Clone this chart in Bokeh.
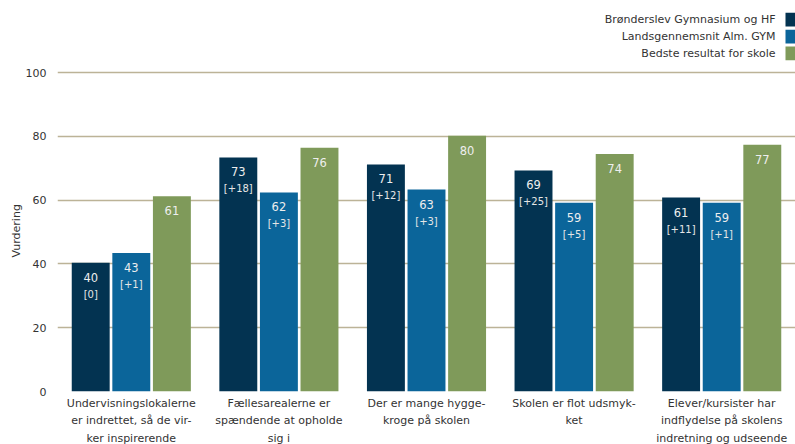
from bokeh.plotting import figure
from bokeh.models import ColumnDataSource, FactorRange, FixedTicker, Label, BoxAnnotation, Title
from bokeh.transform import dodge
from bokeh.embed import file_html
from bokeh.resources import INLINE
from bokeh.core.properties import value

categories = [
    "Undervisningslokalerne\ner indrettet, så de vir-\nker inspirerende",
    "Fællesarealerne er\nspændende at opholde\nsig i",
    "Der er mange hygge-\nkroge på skolen",
    "Skolen er flot udsmyk-\nket",
    "Elever/kursister har\nindflydelse på skolens\nindretning og udseende",
]
school = [40.4, 73.4, 71.2, 69.3, 60.8]
national = [43.4, 62.4, 63.3, 59.2, 59.2]
best = [61.2, 76.4, 80.2, 74.5, 77.4]
school_diff = ["[0]", "[+18]", "[+12]", "[+25]", "[+11]"]
national_diff = ["[+1]", "[+3]", "[+3]", "[+5]", "[+1]"]
series_names = ["Brønderslev Gymnasium og HF", "Landsgennemsnit Alm. GYM", "Bedste resultat for skole"]
y_ticks = [0, 20, 40, 60, 80, 100]

DARK = "#033351"
BLUE = "#0b659a"
GREEN = "#7f9a5a"
GRID = "#bcb397"
TXT = "#333333"
FONT = "DejaVu Sans"

src = ColumnDataSource(dict(
    cat=categories, school=school, national=national, best=best,
    school_lbl=[f"{v:.0f}" for v in school],
    national_lbl=[f"{v:.0f}" for v in national],
    best_lbl=[f"{v:.0f}" for v in best],
    school_diff=school_diff, national_diff=national_diff,
))

p = figure(x_range=FactorRange(factors=categories, range_padding=0), y_range=(0, 122.6),
           frame_width=738, frame_height=391,
           min_border_left=57, min_border_right=0, min_border_top=0, min_border_bottom=53,
           output_backend="svg", toolbar_location=None)
p.outline_line_color = None
p.background_fill_color = "white"
p.xgrid.grid_line_color = None
p.ygrid.grid_line_color = GRID
p.ygrid.grid_line_width = 1.5

p.yaxis.ticker = FixedTicker(ticks=y_ticks)
p.yaxis.axis_line_color = None
p.yaxis.major_tick_line_color = None
p.yaxis.minor_tick_line_color = None
p.yaxis.major_label_standoff = 5
p.yaxis.major_label_text_font = FONT
p.yaxis.major_label_text_font_size = "11px"
p.yaxis.major_label_text_color = TXT

p.xaxis.axis_line_color = None
p.xaxis.major_tick_line_color = None
p.xaxis.major_label_standoff = -1
p.xaxis.major_label_text_font = FONT
p.xaxis.major_label_text_font_size = "11px"
p.xaxis.major_label_text_line_height = 1.37
p.xaxis.major_label_text_color = TXT

W = 0.257
OFF = 0.275
cols = [("school", -OFF, DARK), ("national", 0, BLUE), ("best", OFF, GREEN)]
for col, off, color in cols:
    p.vbar(x=dodge("cat", off, range=p.x_range), top=col, width=W, source=src,
           fill_color=color, line_color=None)
    p.text(x=dodge("cat", off, range=p.x_range), y=col, text=col + "_lbl", source=src,
           text_align="center", text_baseline="top", y_offset=10,
           text_font=value(FONT), text_font_size="11.5px", text_color="#eeeeee")
for col, off in [("school", -OFF), ("national", 0)]:
    p.text(x=dodge("cat", off, range=p.x_range), y=col, text=col + "_diff", source=src,
           text_align="center", text_baseline="top", y_offset=26,
           text_font=value(FONT), text_font_size="10px", text_color="#e6e6e6")

# y axis title, placed beside the 0-100 span
p.add_layout(Title(text="Vurdering", align="left", offset=134, standoff=0,
                   text_font=FONT, text_font_size="11px", text_font_style="normal",
                   text_color=TXT), "left")

# legend (text right-aligned, swatch on the right)
leg_y = [116.6, 111.3, 106.0]
for name, color, yy in zip(series_names, [DARK, BLUE, GREEN], leg_y):
    p.add_layout(Label(x=718, x_units="screen", y=yy, text=name,
                       text_align="right", text_baseline="middle",
                       text_font=FONT, text_font_size="11px", text_color=TXT))
    p.add_layout(BoxAnnotation(left=728, right=738, left_units="screen", right_units="screen",
                               bottom=yy - 2.15, top=yy + 2.15,
                               fill_color=color, fill_alpha=1, line_color=None))

open("out.html", "w").write(file_html(p, INLINE))
